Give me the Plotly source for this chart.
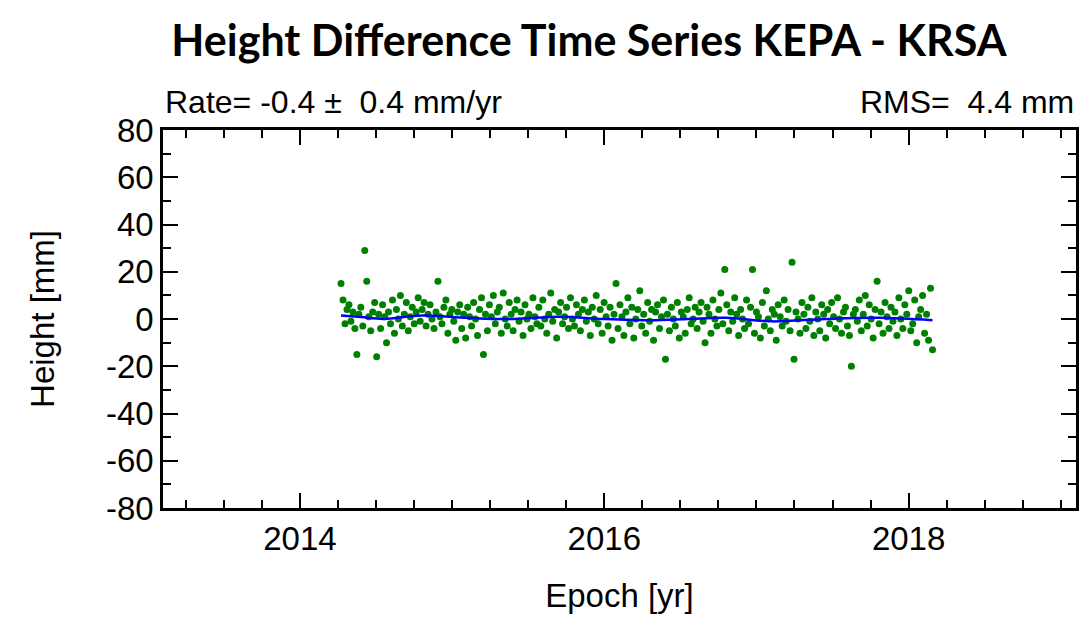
import plotly.graph_objects as go

epochs = [
2014.270,2014.283,2014.296,2014.309,2014.322,2014.335,2014.348,2014.361,2014.374,2014.387,2014.400,2014.413,2014.426,2014.439,2014.452,2014.465,2014.478,2014.491,2014.504,2014.517,
2014.530,2014.543,2014.556,2014.569,2014.582,2014.595,2014.608,2014.621,2014.634,2014.647,2014.660,2014.673,2014.686,2014.699,2014.712,2014.725,2014.738,2014.751,2014.764,2014.777,
2014.790,2014.803,2014.816,2014.829,2014.842,2014.855,2014.868,2014.881,2014.894,2014.907,2014.920,2014.933,2014.946,2014.959,2014.972,2014.985,2014.998,2015.011,2015.024,2015.037,
2015.050,2015.063,2015.076,2015.089,2015.102,2015.115,2015.128,2015.141,2015.154,2015.167,2015.180,2015.193,2015.206,2015.219,2015.232,2015.245,2015.258,2015.271,2015.284,2015.297,
2015.310,2015.323,2015.336,2015.349,2015.362,2015.375,2015.388,2015.401,2015.414,2015.427,2015.440,2015.453,2015.466,2015.479,2015.492,2015.505,2015.518,2015.531,2015.544,2015.557,
2015.570,2015.583,2015.596,2015.609,2015.622,2015.635,2015.648,2015.661,2015.674,2015.687,2015.700,2015.713,2015.726,2015.739,2015.752,2015.765,2015.778,2015.791,2015.804,2015.817,
2015.830,2015.843,2015.856,2015.869,2015.882,2015.895,2015.908,2015.921,2015.934,2015.947,2015.960,2015.973,2015.986,2015.999,2016.012,2016.025,2016.038,2016.051,2016.064,2016.077,
2016.090,2016.103,2016.116,2016.129,2016.142,2016.155,2016.168,2016.181,2016.194,2016.207,2016.220,2016.233,2016.246,2016.259,2016.272,2016.285,2016.298,2016.311,2016.324,2016.337,
2016.350,2016.363,2016.376,2016.389,2016.402,2016.415,2016.428,2016.441,2016.454,2016.467,2016.480,2016.493,2016.506,2016.519,2016.532,2016.545,2016.558,2016.571,2016.584,2016.597,
2016.610,2016.623,2016.636,2016.649,2016.662,2016.675,2016.688,2016.701,2016.714,2016.727,2016.740,2016.753,2016.766,2016.779,2016.792,2016.805,2016.818,2016.831,2016.844,2016.857,
2016.870,2016.883,2016.896,2016.909,2016.922,2016.935,2016.948,2016.961,2016.974,2016.987,2017.000,2017.013,2017.026,2017.039,2017.052,2017.065,2017.078,2017.091,2017.104,2017.117,
2017.130,2017.143,2017.156,2017.169,2017.182,2017.195,2017.208,2017.221,2017.234,2017.247,2017.260,2017.273,2017.286,2017.299,2017.312,2017.325,2017.338,2017.351,2017.364,2017.377,
2017.390,2017.403,2017.416,2017.429,2017.442,2017.455,2017.468,2017.481,2017.494,2017.507,2017.520,2017.533,2017.546,2017.559,2017.572,2017.585,2017.598,2017.611,2017.624,2017.637,
2017.650,2017.663,2017.676,2017.689,2017.702,2017.715,2017.728,2017.741,2017.754,2017.767,2017.780,2017.793,2017.806,2017.819,2017.832,2017.845,2017.858,2017.871,2017.884,2017.897,
2017.910,2017.923,2017.936,2017.949,2017.962,2017.975,2017.988,2018.001,2018.014,2018.027,2018.040,2018.053,2018.066,2018.079,2018.092,2018.105,2018.118,2018.131,2018.144,2018.157,
]

heights = [
15,8,-2,4,6,-1,3,-4,-15,2,5,-3,29,16,1,-5,3,7,-16,2,
-4,6,1,-10,3,-2,8,-6,4,0,10,-3,2,7,-5,1,5,-2,3,9,
-1,4,7,-3,2,6,0,-4,3,16,1,-2,5,8,-6,2,4,-1,-9,3,
6,-4,2,-8,5,1,-3,7,0,-7,4,9,-15,2,-5,6,1,10,-2,3,
5,-6,11,0,-3,7,2,-5,4,8,-1,3,-7,6,0,2,-4,9,1,-2,
5,-3,8,0,-6,2,11,-1,4,-8,3,7,-2,1,5,-4,9,0,-3,6,
2,-5,4,8,-1,3,-7,5,0,10,-2,4,-6,7,1,-3,5,-9,2,15,
-4,6,1,-7,3,9,-2,5,-8,0,4,12,-3,2,-6,7,-1,4,-9,3,
6,-4,1,8,-17,2,-5,5,0,-3,7,-8,3,1,-6,4,9,-2,0,5,
-4,3,7,-1,-10,5,2,-6,8,0,-3,4,11,-2,21,6,-5,3,-1,9,
2,-7,4,0,-4,8,-2,5,21,-6,3,1,-8,7,-3,12,0,-5,4,2,
-9,6,1,-3,8,-1,4,-5,24,-17,3,0,-6,7,2,-4,5,-1,9,-7,
3,0,-5,6,2,-8,4,-2,7,1,-4,9,0,-6,3,5,-3,-7,-20,2,
4,-1,8,-5,2,10,-3,6,0,-8,4,16,-2,3,-6,7,1,-4,5,-1,
3,-7,9,0,-4,6,2,12,-5,-2,8,-10,1,4,10,-6,2,-9,13,-13,
]

fit_epochs = [2014.27,2014.4,2014.55,2014.8,2015.1,2015.4,2015.7,2016.0,2016.3,2016.55,2016.8,2017.1,2017.45,2017.8,2018.157]
fit_heights = [1.5,0.8,0.0,1.5,0.5,0.0,1.0,0.0,-0.5,0.0,0.5,-1.0,0.0,0.5,-0.5]

x_ticks = [2014, 2016, 2018]
y_ticks = [-80, -60, -40, -20, 0, 20, 40, 60, 80]

fig = go.Figure()
fig.add_trace(go.Scatter(x=epochs, y=heights, mode="markers",
                         marker=dict(color="#008000", size=7), showlegend=False))
fig.add_trace(go.Scatter(x=fit_epochs, y=fit_heights, mode="lines", line_shape="spline",
                         line=dict(color="#0000ff", width=2.5), showlegend=False))

F = "Liberation Sans"
axis_common = dict(showgrid=False, zeroline=False, showline=True, linecolor="black", linewidth=2.5,
                   mirror="allticks", ticks="inside", ticklen=15, tickwidth=2, tickcolor="black",
                   automargin=False, tickfont=dict(family=F, size=33, color="black"))
fig.update_xaxes(range=[2013.1, 2019.1], tickvals=x_ticks, ticktext=[str(v) for v in x_ticks],
                 minor=dict(ticks="inside", ticklen=8, tickwidth=2, tickcolor="black", dtick=0.25, tick0=2014),
                 title=dict(text="Epoch [yr]", font=dict(family=F, size=33, color="black"), standoff=28),
                 **axis_common)
fig.update_yaxes(range=[-80, 80], tickvals=y_ticks, ticktext=[str(v) for v in y_ticks],
                 minor=dict(ticks="inside", ticklen=8, tickwidth=2, tickcolor="black", dtick=10),
                 title=dict(text="Height [mm]", font=dict(family=F, size=33, color="black"), standoff=42),
                 **axis_common)

fig.update_layout(
    width=1092, height=621, plot_bgcolor="white", paper_bgcolor="white",
    margin=dict(l=155, r=24, t=122, b=121),
    title=dict(text="<b>Height Difference Time Series KEPA - KRSA</b>", x=0.532, xanchor="center", y=0.947, yanchor="middle",
               font=dict(family="Lato", size=43, color="black")),
    annotations=[
        dict(text="Rate= -0.4 ±  0.4 mm/yr", xref="paper", yref="paper", x=0, y=1.02, xanchor="left", yanchor="bottom",
             showarrow=False, font=dict(family=F, size=32, color="black")),
        dict(text="RMS=  4.4 mm", xref="paper", yref="paper", x=1, y=1.02, xanchor="right", yanchor="bottom",
             showarrow=False, font=dict(family=F, size=32, color="black")),
    ],
)
fig.write_html("out.html")
